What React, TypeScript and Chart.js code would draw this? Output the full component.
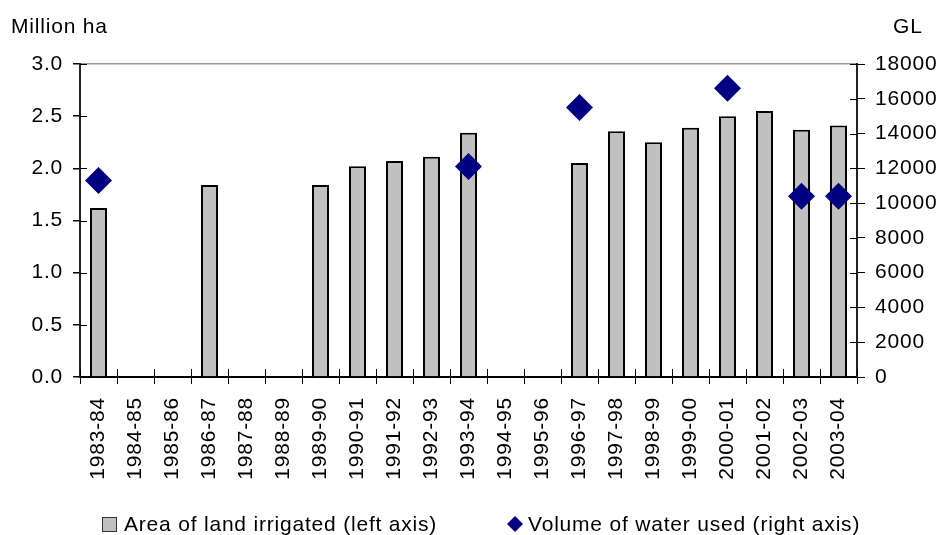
import React, { useEffect, useRef } from 'react';
import { Chart, registerables } from 'chart.js';

Chart.register(...registerables);

const categories = [
  '1983-84', '1984-85', '1985-86', '1986-87', '1987-88', '1988-89', '1989-90',
  '1990-91', '1991-92', '1992-93', '1993-94', '1994-95', '1995-96', '1996-97',
  '1997-98', '1998-99', '1999-00', '2000-01', '2001-02', '2002-03', '2003-04',
];

const areaIrrigated = [
  1.62, null, null, 1.84, null, null, 1.84,
  2.02, 2.07, 2.11, 2.34, null, null, 2.05,
  2.355, 2.25, 2.39, 2.50, 2.55, 2.37, 2.41,
];

const waterUsed = [
  11300, null, null, null, null, null, null,
  null, null, null, 12100, null, null, 15500,
  null, null, null, 16600, null, 10400, 10400,
];

const leftTicks = [0, 0.5, 1.0, 1.5, 2.0, 2.5, 3.0];
const rightTicks = [0, 2000, 4000, 6000, 8000, 10000, 12000, 14000, 16000, 18000];

const leftTitle = 'Million ha';
const rightTitle = 'GL';
const areaLabel = 'Area of land irrigated (left axis)';
const waterLabel = 'Volume of water used (right axis)';

const FONT = "'Liberation Sans', Arial, sans-serif";
const BAR_FILL = '#c0c0c0';
const NAVY = '#000080';

const extrasPlugin = {
  id: 'extras',
  beforeDraw(chart: any) {
    try {
      chart.ctx.letterSpacing = '0.8px';
    } catch (e) {}
  },
  afterDraw(chart: any) {
    const { ctx, chartArea, scales } = chart;
    ctx.save();
    // inner halves of tick marks
    ctx.strokeStyle = '#000';
    ctx.lineWidth = 1;
    const y = scales.y;
    const y1 = scales.y1;
    const x = scales.x;
    leftTicks.forEach((v) => {
      const py = Math.round(y.getPixelForValue(v)) + 0.5;
      ctx.beginPath();
      ctx.moveTo(chartArea.left, py);
      ctx.lineTo(chartArea.left + 7, py);
      ctx.stroke();
    });
    rightTicks.forEach((v) => {
      const py = Math.round(y1.getPixelForValue(v)) + 0.5;
      ctx.beginPath();
      ctx.moveTo(chartArea.right - 7, py);
      ctx.lineTo(chartArea.right, py);
      ctx.stroke();
    });
    for (let i = 0; i <= categories.length; i++) {
      const px = Math.round(x.getPixelForValue(i - 0.5)) + 0.5;
      ctx.beginPath();
      ctx.moveTo(px, chartArea.bottom - 8);
      ctx.lineTo(px, chartArea.bottom);
      ctx.stroke();
    }

    // axis titles
    ctx.fillStyle = '#000';
    ctx.font = `21px ${FONT}`;
    ctx.textBaseline = 'alphabetic';
    ctx.textAlign = 'left';
    ctx.fillText(leftTitle, 11, 33);
    ctx.fillText(rightTitle, 893, 33);

    // legend
    const ds0 = chart.data.datasets[0];
    const ds1 = chart.data.datasets[1];
    ctx.fillStyle = ds0.backgroundColor;
    ctx.fillRect(102.5, 517.5, 14, 14);
    ctx.strokeStyle = '#333';
    ctx.lineWidth = 1;
    ctx.strokeRect(102.5, 517.5, 14, 14);
    ctx.fillStyle = '#000';
    ctx.fillText(ds0.label, 124, 531);

    ctx.fillStyle = ds1.backgroundColor;
    ctx.beginPath();
    ctx.moveTo(515, 516);
    ctx.lineTo(523, 524);
    ctx.lineTo(515, 532);
    ctx.lineTo(507, 524);
    ctx.closePath();
    ctx.fill();
    ctx.fillStyle = '#000';
    ctx.fillText(ds1.label, 528, 531);
    ctx.restore();
  },
};

export default function App() {
  const canvasRef = useRef<HTMLCanvasElement | null>(null);

  useEffect(() => {
    document.body.style.margin = '0';
    const canvas = canvasRef.current;
    if (!canvas) return;
    const chart = new Chart(canvas, {
      type: 'bar',
      data: {
        labels: categories,
        datasets: [
          {
            type: 'bar',
            label: areaLabel,
            data: areaIrrigated,
            backgroundColor: BAR_FILL,
            borderColor: '#000',
            borderWidth: 2,
            barPercentage: 0.46,
            categoryPercentage: 1,
            yAxisID: 'y',
            order: 2,
          } as any,
          {
            type: 'line',
            label: waterLabel,
            data: waterUsed,
            showLine: false,
            pointStyle: 'rectRot',
            pointRadius: 13.5,
            pointBorderWidth: 0,
            backgroundColor: NAVY,
            borderColor: NAVY,
            pointBackgroundColor: NAVY,
            yAxisID: 'y1',
            order: 1,
          } as any,
        ],
      },
      options: {
        animation: false,
        responsive: false,
        devicePixelRatio: 1,
        layout: { padding: { top: 64, left: 0, right: 0, bottom: 0 } },
        plugins: {
          legend: { display: false },
          tooltip: { enabled: false },
        },
        scales: {
          x: {
            type: 'category',
            offset: true,
            grid: {
              offset: true,
              drawOnChartArea: false,
              drawTicks: true,
              tickLength: 7,
              color: '#000',
              lineWidth: 1,
            },
            border: { color: '#000', width: 2 },
            ticks: {
              minRotation: 90,
              maxRotation: 90,
              autoSkip: false,
              padding: 13,
              color: '#000',
              font: { family: FONT, size: 21 },
            },
            afterFit: (s: any) => {
              s.height = 158;
            },
          },
          y: {
            type: 'linear',
            position: 'left',
            min: 0,
            max: 3,
            afterBuildTicks: (s: any) => {
              s.ticks = leftTicks.map((v) => ({ value: v }));
            },
            grid: {
              drawOnChartArea: true,
              tickLength: 7,
              color: (c: any) => (c.tick && c.tick.value === 3 ? '#999999' : 'rgba(0,0,0,0)'),
              tickColor: '#000',
              lineWidth: 1.5,
            },
            border: { color: '#222', width: 2 },
            ticks: {
              padding: 10,
              color: '#000',
              font: { family: FONT, size: 21 },
              callback: (v: any) => Number(v).toFixed(1),
            },
            afterFit: (s: any) => {
              s.width = 80;
            },
          },
          y1: {
            type: 'linear',
            position: 'right',
            min: 0,
            max: 18000,
            afterBuildTicks: (s: any) => {
              s.ticks = rightTicks.map((v) => ({ value: v }));
            },
            grid: {
              drawOnChartArea: false,
              tickLength: 8,
              color: '#000',
              lineWidth: 1,
            },
            border: { color: '#222', width: 2 },
            ticks: {
              padding: 10,
              color: '#000',
              font: { family: FONT, size: 21 },
              callback: (v: any) => String(v),
            },
            afterFit: (s: any) => {
              s.width = 84;
            },
          },
        },
      },
      plugins: [extrasPlugin],
    });
    return () => chart.destroy();
  }, []);

  return (
    <div style={{ width: 941, height: 535 }}>
      <canvas ref={canvasRef} width={941} height={535} style={{ display: 'block' }} />
    </div>
  );
}
